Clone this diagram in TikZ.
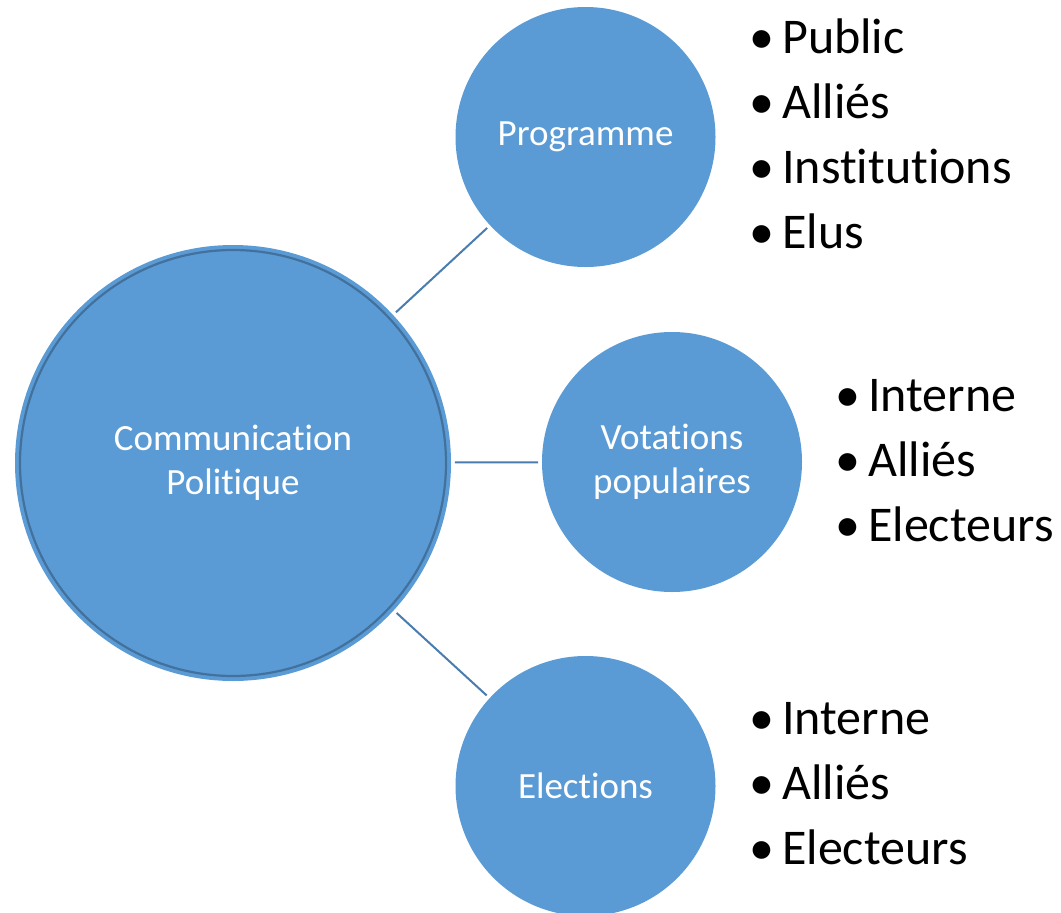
\documentclass[tikz,border=0pt]{standalone}
\usepackage{fontspec}
\setmainfont{Carlito}[Ligatures=NoCommon]
\definecolor{cfill}{HTML}{5B9BD5}
\definecolor{cline}{HTML}{4A7CAE}
\definecolor{cring}{HTML}{41719C}
\newcommand\bul{\makebox[33pt][l]{•}}
\begin{document}
\begin{tikzpicture}[x=1pt,y=-1pt,
  bubble/.style={circle,fill=cfill,draw=none,inner sep=0pt,outer sep=0pt,minimum size=260pt,
    text=white,font=\fontsize{37}{44}\selectfont,align=center},
  link/.style={draw=cline,line width=2pt,shorten <=4pt,shorten >=4pt},
  item/.style={anchor=base west,inner sep=0pt,font=\fontsize{50}{54}\selectfont,text=black}]
\useasboundingbox (0,0) rectangle (1061,913);
\node[bubble,minimum size=436pt] (comm) at (233,463) {Communicat{}ion\\Polit{}ique};
\draw[cring,line width=2.2pt] (comm.center) circle[radius=213pt];
\node[bubble] (prog) at (585.5,137) {Programme};
\node[bubble] (vot) at (672,462) {Votat{}ions\\populaires};
\node[bubble] (elec) at (585.5,786) {Elect{}ions};
\draw[link] (comm) -- (prog);
\draw[link] (comm) -- (vot);
\draw[link] (comm) -- (elec);
% list 1
\node[item] (p1) at (749,53) {\bul Public};
\node[item] (p2) at (749,118) {\bul Alliés};
\node[item] (p3) at (749,183) {\bul Inst{}itut{}ions};
\node[item] (p4) at (749,248) {\bul Elus};
% list 2
\node[item] (v1) at (835,411) {\bul Interne};
\node[item] (v2) at (835,476) {\bul Alliés};
\node[item] (v3) at (835,541) {\bul Electeurs};
% list 3
\node[item] (e1) at (749,734) {\bul Interne};
\node[item] (e2) at (749,799) {\bul Alliés};
\node[item] (e3) at (749,864) {\bul Electeurs};
\end{tikzpicture}
\end{document}
